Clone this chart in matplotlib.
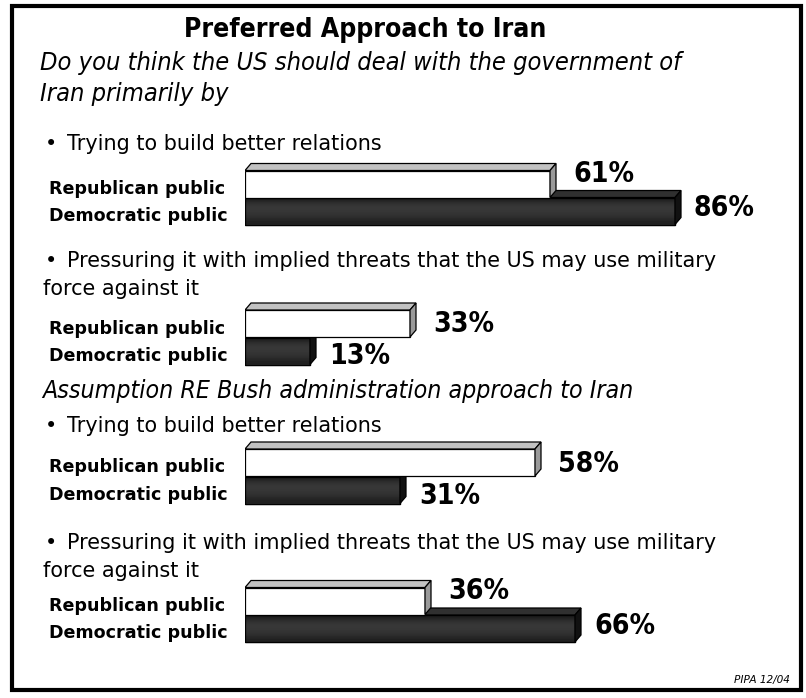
import numpy as np
import matplotlib.pyplot as plt
from matplotlib.patches import Polygon, Rectangle

# Survey data (percent)
questions = [
    "Trying to build better relations",
    "Pressuring it with implied threats that the US may use military",
    "Trying to build better relations",
    "Pressuring it with implied threats that the US may use military",
]
continuations = ["", "force against it", "", "force against it"]
republican = [61, 33, 58, 36]
democratic = [86, 13, 31, 66]
series_names = ["Republican public", "Democratic public"]

title = "Preferred Approach to Iran"
section_a = ["Do you think the US should deal with the government of",
             "Iran primarily by"]
section_b = "Assumption RE Bush administration approach to Iran"
source = "PIPA 12/04"

W, H = 806, 698
fig = plt.figure(figsize=(W / 100, H / 100), dpi=100)
fig.patch.set_facecolor("white")
renderer = fig.canvas.get_renderer()

# overlay axes in pixel units for the text
tx = fig.add_axes([0, 0, 1, 1])
tx.set_xlim(0, W)
tx.set_ylim(H, 0)
tx.axis("off")

# bar axes: x in percent, y in pixel rows
bx = fig.add_axes([245 / W, 0, 550 / W, 1])
bx.axis("off")

SANS = ["DejaVu Sans"]


def fitted(ax, x, y, s, width, size=14, **kw):
    """Place text and scale its font size so it spans `width` pixels."""
    t = ax.text(x, y, s, fontsize=size, va="baseline", family=SANS, **kw)
    w = t.get_window_extent(renderer).width
    t.set_fontsize(size * width / w)
    return t


fitted(tx, 365, 37, title, 366, ha="center", fontweight="bold",
       fontstretch="condensed")
t = fitted(tx, 40, 70, section_a[0], 643, style="italic", fontstretch="condensed")
sub_size = t.get_fontsize()
tx.text(40, 101, section_a[1], fontsize=sub_size, style="italic", va="baseline",
        family=SANS, fontstretch="condensed")
fitted(tx, 42, 398, section_b, 592, style="italic", fontstretch="condensed")
fitted(tx, 790, 683, source, 56, ha="right", style="italic")

# layout (pixel rows)
question_base = [150, 267, 432, 549]
rep_y = [184, 323.5, 462.5, 601]
dem_y = [211, 351, 490, 628.5]
bar_h = 27
dx, dy = 1.2, 7

bx.set_xlim(0, 110)
bx.set_ylim(H, 0)

t = fitted(tx, 67, question_base[1], questions[1], 650)
body_size = t.get_fontsize()
t = fitted(tx, 49, rep_y[0] + 10, series_names[0], 176, fontweight="bold")
label_size = t.get_fontsize()
t = fitted(bx, republican[0] + 4.6, rep_y[0] - 2, "61%", 61,
           fontweight="bold", fontstretch="condensed")
pct_size = t.get_fontsize()
t.remove()

# soft vertical shading for the dark bar faces
shade = np.array([0.10, 0.17, 0.21, 0.22, 0.21, 0.19, 0.16, 0.12])[:, None]


def bar3d(y, v, front, top, side, z, shaded=False):
    t = y - bar_h / 2
    b = y + bar_h / 2
    bars = bx.barh(y, v, height=bar_h, color=front, edgecolor="black",
                   linewidth=0.9, zorder=z)
    if shaded:
        im = bx.imshow(shade, cmap="gray", vmin=0, vmax=1, aspect="auto",
                       extent=(0, v, b, t), interpolation="bicubic",
                       zorder=z + 0.1)
        im.set_clip_path(bars.patches[0])
        bx.barh(y, v, height=bar_h, fill=False, edgecolor="black",
                linewidth=0.9, zorder=z + 0.2)
    bx.add_patch(Polygon([(0, t), (v, t), (v + dx, t - dy), (dx, t - dy)],
                         closed=True, facecolor=top, edgecolor="black",
                         linewidth=0.9, zorder=z + 0.3))
    bx.add_patch(Polygon([(v, t), (v + dx, t - dy), (v + dx, b - dy), (v, b)],
                         closed=True, facecolor=side, edgecolor="black",
                         linewidth=0.9, zorder=z + 0.3))


for i in range(4):
    qb = question_base[i]
    tx.text(45, qb, "•", fontsize=body_size, va="baseline", family=SANS)
    if i != 1:
        tx.text(67, qb, questions[i], fontsize=body_size, va="baseline",
                family=SANS)
    if continuations[i]:
        tx.text(43, qb + 28, continuations[i], fontsize=body_size,
                va="baseline", family=SANS)
    if i != 0:
        tx.text(49, rep_y[i] + 10, series_names[0], fontsize=label_size,
                fontweight="bold", va="baseline", family=SANS)
    tx.text(49, dem_y[i] + 10, series_names[1], fontsize=label_size,
            fontweight="bold", va="baseline", family=SANS)

    # the dark bar sits behind; the white bar is stacked on top of it
    bar3d(dem_y[i], democratic[i], "#2a2a2a", "#303030", "#111111", 3,
          shaded=True)
    bar3d(rep_y[i], republican[i], "white", "#c2c2c2", "#9a9a9a", 4)

    if democratic[i] > republican[i]:
        ry, dyb = rep_y[i] - 2, dem_y[i] + 5
    else:
        ry, dyb = rep_y[i] + 9, dem_y[i] + 13.5
    bx.text(republican[i] + 4.6, ry, f"{republican[i]}%", fontsize=pct_size,
            va="baseline", family=SANS, fontweight="bold",
            fontstretch="condensed")
    bx.text(democratic[i] + 3.8, dyb, f"{democratic[i]}%", fontsize=pct_size,
            va="baseline", family=SANS, fontweight="bold",
            fontstretch="condensed")

bx.set_xlim(0, 110)
bx.set_ylim(H, 0)

# frame around the slide
fig.patches.append(Rectangle((12 / W, (H - 690) / H), (801 - 12) / W,
                             (690 - 6) / H, transform=fig.transFigure,
                             fill=False, edgecolor="black", linewidth=3))

fig.savefig("out.png", dpi=100, facecolor="white")
